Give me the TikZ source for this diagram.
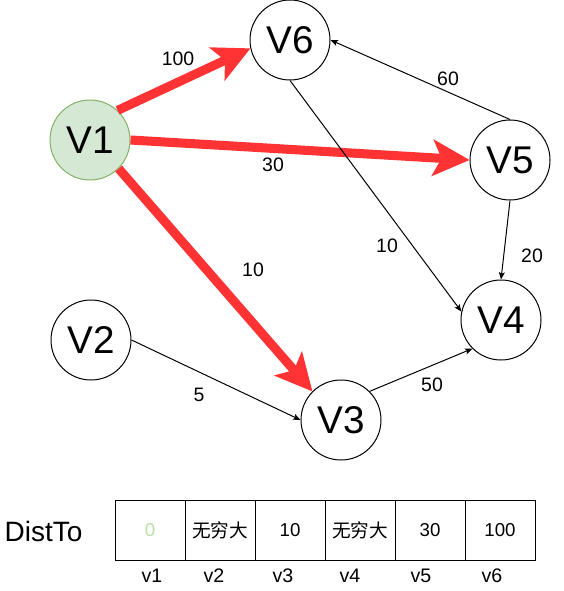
\documentclass[tikz,border=0pt]{standalone}
\usepackage{fontspec}
\setmainfont{Liberation Sans}
\newfontfamily\cjk{Noto Sans CJK SC}
\usepackage{xcolor}
\usetikzlibrary{arrows.meta}
\definecolor{hotred}{HTML}{FF3333}
\definecolor{startfill}{HTML}{D5E8D4}
\definecolor{startline}{HTML}{82B366}
\definecolor{zerogreen}{HTML}{B9E0A5}

\begin{document}
\begin{tikzpicture}[
    x=0.75pt, y=-0.75pt,
    vertex/.style={draw, circle, minimum size=60pt, inner sep=0pt, line width=0.75pt, fill=white, font=\fontsize{29}{32}\selectfont},
    startvertex/.style={vertex, draw=startline, fill=startfill},
    best/.style={draw=hotred, line width=6.8pt, -{Stealth[length=28pt, width=28pt, inset=7pt, line width=0pt]}},
    link/.style={draw, line width=0.75pt, -{Stealth[length=5.5pt, width=4.5pt, inset=1.2pt]}},
    weight/.style={font=\fontsize{14.6}{17}\selectfont},
    cell/.style={draw, line width=0.75pt, minimum width=52.5pt, minimum height=45pt, inner sep=0pt, font=\fontsize{14}{16}\selectfont},
    idx/.style={font=\fontsize{14.7}{17}\selectfont}
]
    \useasboundingbox (0,0) rectangle (563,591);

    % vertices
    \node[startvertex] (v1) at (90,140) {V1};
    \node[vertex] (v2) at (91,340) {V2};
    \node[vertex] (v3) at (341,420) {V3};
    \node[vertex] (v4) at (501,320) {V4};
    \node[vertex] (v5) at (510,160) {V5};
    \node[vertex] (v6) at (290,40) {V6};

    % shortest paths from V1
    \draw[best] (v1.47) -- (v6.192);
    \draw[best] (v1.east) -- (v5.west);
    \draw[best] (v1.south east) -- (v3.north west);

    % other edges
    \draw[link] (v5.north) -- (v6.east);
    \draw[link] (v6.south) -- (v4.168);
    \draw[link] (v5.south) -- (v4.north);
    \draw[link] (v2.east) -- (v3.west);
    \draw[link] (v3.north east) -- (v4.south west);

    % weights
    \node[weight] (w16) at (178,59) {100};
    \node[weight] (w15) at (273,165) {30};
    \node[weight] (w13) at (253,270) {10};
    \node[weight] (w23) at (199,395) {5};
    \node[weight] (w56) at (448,79) {60};
    \node[weight] (w64) at (387,246) {10};
    \node[weight] (w54) at (532,256) {20};
    \node[weight] (w34) at (432,385) {50};

    % distance table
    \node[font=\fontsize{21}{24}\selectfont] (dist) at (43.5,531) {DistTo};
    \node[cell, text=zerogreen] (c1) at (150,530) {0};
    \node[cell] (c2) at (220,530) {\cjk 无穷大};
    \node[cell] (c3) at (290,530) {10};
    \node[cell] (c4) at (360,530) {\cjk 无穷大};
    \node[cell] (c5) at (430,530) {30};
    \node[cell] (c6) at (500,530) {100};

    \node[idx] (i1) at (152,576) {v1};
    \node[idx] (i2) at (214,576) {v2};
    \node[idx] (i3) at (283,576) {v3};
    \node[idx] (i4) at (350,576) {v4};
    \node[idx] (i5) at (421,576) {v5};
    \node[idx] (i6) at (492,576) {v6};
\end{tikzpicture}
\end{document}
